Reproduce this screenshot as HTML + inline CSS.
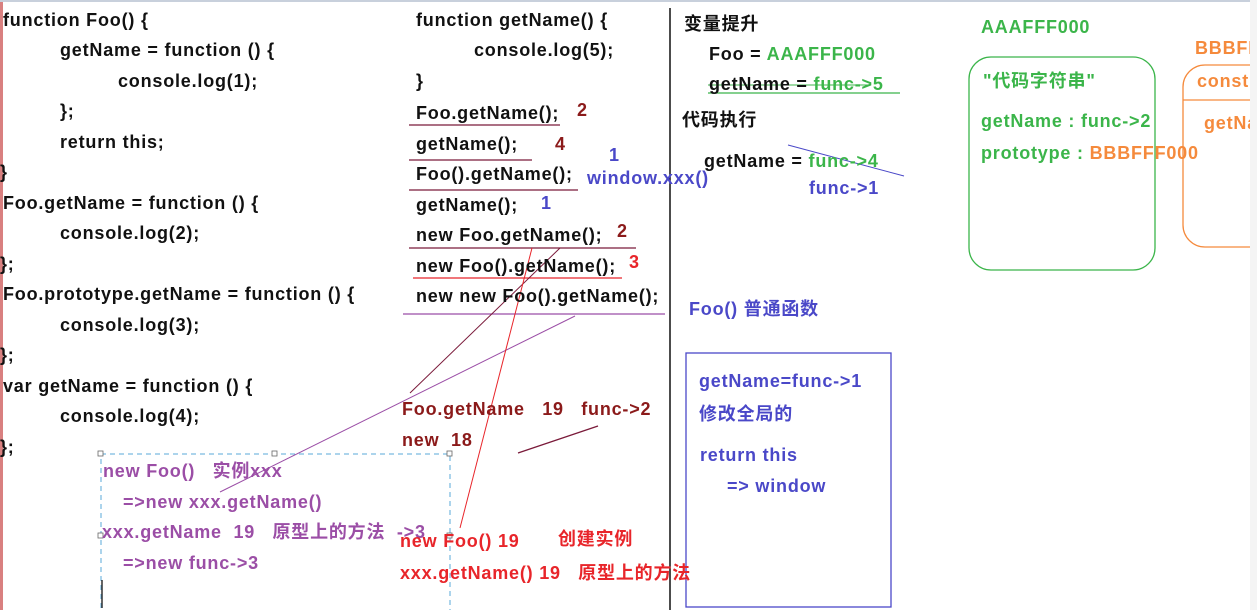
<!DOCTYPE html>
<html><head><meta charset="utf-8"><style>
body{margin:0;width:1257px;height:610px;background:#fff;position:relative;overflow:hidden;font-family:"Liberation Sans","Noto Sans CJK SC",sans-serif;font-weight:bold;font-size:18px;letter-spacing:0.8px;}
.t{position:absolute;white-space:nowrap;line-height:20px;color:#111;}
.g{color:#3bb54a}.r{color:#8b1a1a}.b{color:#4a48c8}.p{color:#9b4ea6}.rd{color:#e8252a}.o{color:#f58a3c}
svg{position:absolute;left:0;top:0}
</style></head><body>
<div style="position:absolute;left:0;top:0;width:3px;height:610px;background:#d98080"></div>
<div style="position:absolute;left:0;top:0;width:1257px;height:2px;background:#c8d0dc"></div>
<svg width="1257" height="610">
<line x1="670" y1="8" x2="670" y2="610" stroke="#111" stroke-width="1.5"/>
<line x1="409" y1="125" x2="560" y2="125" stroke="#7a1a3a" stroke-width="1.3"/>
<line x1="409" y1="160" x2="532" y2="160" stroke="#7a1a3a" stroke-width="1.3"/>
<line x1="409" y1="190" x2="578" y2="190" stroke="#7a1a3a" stroke-width="1.3"/>
<line x1="409" y1="248" x2="636" y2="248" stroke="#7a1a3a" stroke-width="1.3"/>
<line x1="413" y1="278" x2="622" y2="278" stroke="#e8252a" stroke-width="1.3"/>
<line x1="403" y1="314" x2="665" y2="314" stroke="#9b4ea6" stroke-width="1.3"/>
<line x1="410" y1="393" x2="560" y2="248" stroke="#7a1a3a" stroke-width="1"/>
<line x1="220" y1="492" x2="575" y2="316" stroke="#9b4ea6" stroke-width="1"/>
<line x1="460" y1="528" x2="532" y2="248" stroke="#e8252a" stroke-width="1"/>
<line x1="518" y1="453" x2="598" y2="426" stroke="#7a1a3a" stroke-width="1.3"/>
<line x1="708" y1="93" x2="900" y2="93" stroke="#3bb54a" stroke-width="1.3"/>
<line x1="708" y1="85" x2="870" y2="85" stroke="#3bb54a" stroke-width="1"/>
<line x1="788" y1="145" x2="904" y2="176" stroke="#4a48c8" stroke-width="1"/>
<rect x="101" y="454" width="349" height="160" fill="none" stroke="#5aa8d8" stroke-dasharray="5,4" stroke-width="1"/>
<rect x="98" y="451" width="5" height="5" fill="#fff" stroke="#666" stroke-width="0.8"/>
<rect x="272" y="451" width="5" height="5" fill="#fff" stroke="#666" stroke-width="0.8"/>
<rect x="447" y="451" width="5" height="5" fill="#fff" stroke="#666" stroke-width="0.8"/>
<rect x="98" y="533" width="5" height="5" fill="#fff" stroke="#666" stroke-width="0.8"/>
<rect x="447" y="533" width="5" height="5" fill="#fff" stroke="#666" stroke-width="0.8"/>
<line x1="102" y1="580" x2="102" y2="608" stroke="#333" stroke-width="1.5"/>
<rect x="969" y="57" width="186" height="213" rx="22" fill="none" stroke="#3bb54a" stroke-width="1.3"/>
<rect x="1183" y="65" width="90" height="182" rx="22" fill="none" stroke="#f58a3c" stroke-width="1.3"/>
<line x1="1183" y1="100" x2="1257" y2="100" stroke="#f58a3c" stroke-width="1.3"/>
<rect x="686" y="353" width="205" height="254" fill="none" stroke="#4a48c8" stroke-width="1.3"/>
</svg>
<div class="t" style="left:3px;top:10px">function Foo() {</div>
<div class="t" style="left:60px;top:40px">getName = function () {</div>
<div class="t" style="left:118px;top:71px">console.log(1);</div>
<div class="t" style="left:60px;top:101px">};</div>
<div class="t" style="left:60px;top:132px">return this;</div>
<div class="t" style="left:0px;top:162px">}</div>
<div class="t" style="left:3px;top:193px">Foo.getName = function () {</div>
<div class="t" style="left:60px;top:223px">console.log(2);</div>
<div class="t" style="left:0px;top:254px">};</div>
<div class="t" style="left:3px;top:284px">Foo.prototype.getName = function () {</div>
<div class="t" style="left:60px;top:315px">console.log(3);</div>
<div class="t" style="left:0px;top:345px">};</div>
<div class="t" style="left:3px;top:376px">var getName = function () {</div>
<div class="t" style="left:60px;top:406px">console.log(4);</div>
<div class="t" style="left:0px;top:437px">};</div>

<div class="t" style="left:416px;top:10px">function getName() {</div>
<div class="t" style="left:474px;top:40px">console.log(5);</div>
<div class="t" style="left:416px;top:71px">}</div>
<div class="t" style="left:416px;top:103px">Foo.getName();</div>
<div class="t r" style="left:577px;top:100px">2</div>
<div class="t" style="left:416px;top:134px">getName();</div>
<div class="t r" style="left:555px;top:134px">4</div>
<div class="t b" style="left:609px;top:145px">1</div>
<div class="t" style="left:416px;top:164px">Foo().getName();</div>
<div class="t b" style="left:587px;top:168px">window.xxx()</div>
<div class="t" style="left:416px;top:195px">getName();</div>
<div class="t b" style="left:541px;top:193px">1</div>
<div class="t" style="left:416px;top:225px">new Foo.getName();</div>
<div class="t r" style="left:617px;top:221px">2</div>
<div class="t" style="left:416px;top:256px">new Foo().getName();</div>
<div class="t rd" style="left:629px;top:252px">3</div>
<div class="t" style="left:416px;top:286px">new new Foo().getName();</div>

<div class="t r" style="left:402px;top:399px">Foo.getName &nbsp;&nbsp;19 &nbsp;&nbsp;func-&gt;2</div>
<div class="t r" style="left:402px;top:430px">new &nbsp;18</div>
<div class="t p" style="left:103px;top:461px">new Foo() &nbsp;&nbsp;实例xxx</div>
<div class="t p" style="left:123px;top:492px">=&gt;new xxx.getName()</div>
<div class="t p" style="left:102px;top:522px">xxx.getName &nbsp;19 &nbsp;&nbsp;原型上的方法 &nbsp;-&gt;3</div>
<div class="t p" style="left:123px;top:553px">=&gt;new func-&gt;3</div>
<div class="t rd" style="left:400px;top:531px">new Foo() 19</div>
<div class="t rd" style="left:558px;top:529px">创建实例</div>
<div class="t rd" style="left:400px;top:563px">xxx.getName() 19 &nbsp;&nbsp;原型上的方法</div>

<div class="t" style="left:684px;top:14px">变量提升</div>
<div class="t" style="left:709px;top:44px">Foo = <span class="g">AAAFFF000</span></div>
<div class="t" style="left:709px;top:74px">getName = <span class="g">func-&gt;5</span></div>
<div class="t" style="left:682px;top:110px">代码执行</div>
<div class="t" style="left:704px;top:151px">getName = <span class="g">func-&gt;4</span></div>
<div class="t b" style="left:809px;top:178px">func-&gt;1</div>
<div class="t b" style="left:689px;top:299px">Foo() 普通函数</div>
<div class="t b" style="left:699px;top:371px">getName=func-&gt;1</div>
<div class="t b" style="left:699px;top:404px">修改全局的</div>
<div class="t b" style="left:700px;top:445px">return this</div>
<div class="t b" style="left:727px;top:476px">=&gt; window</div>

<div class="t g" style="left:981px;top:17px">AAAFFF000</div>
<div class="t g" style="left:983px;top:71px">"代码字符串"</div>
<div class="t g" style="left:981px;top:111px">getName : func-&gt;2</div>
<div class="t g" style="left:981px;top:143px">prototype : <span class="o">BBBFFF000</span></div>
<div class="t o" style="left:1195px;top:38px">BBBFFF000</div>
<div class="t o" style="left:1197px;top:71px">constructor</div>
<div class="t o" style="left:1204px;top:113px">getName</div>
<div style="position:absolute;left:1250px;top:0;width:7px;height:610px;background:#f4f4f4"></div>
</body></html>
